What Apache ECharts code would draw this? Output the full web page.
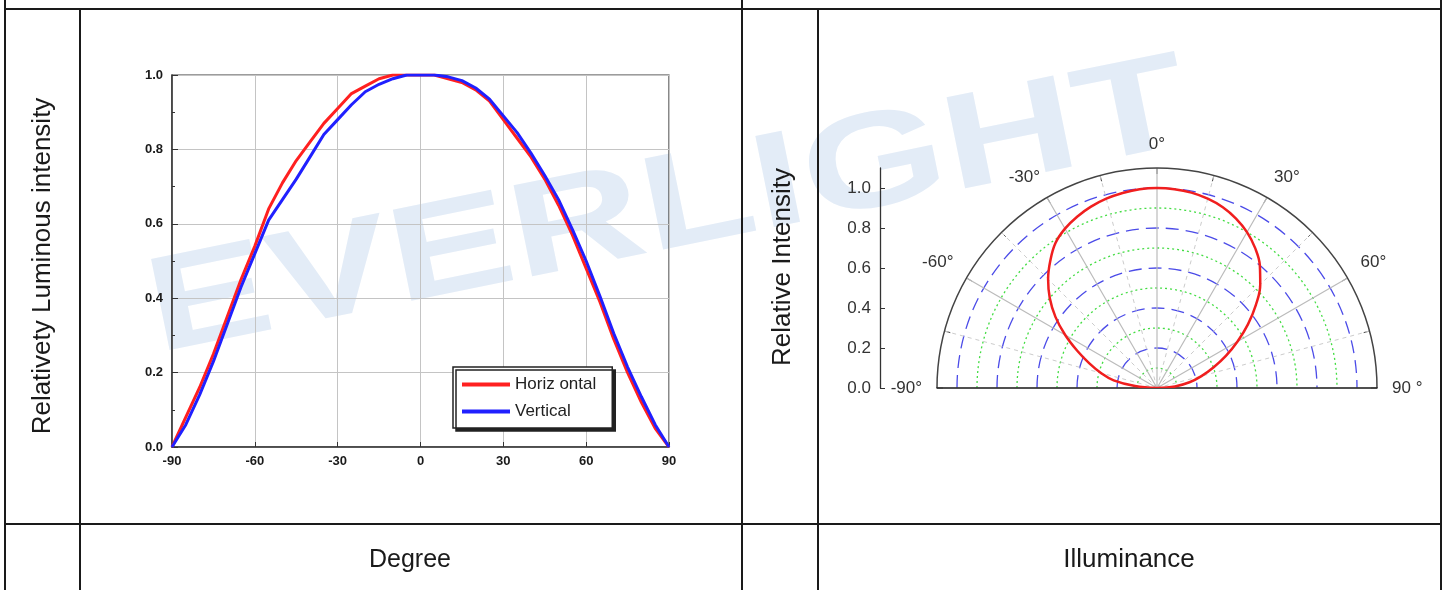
<!DOCTYPE html>
<html><head><meta charset="utf-8">
<script src="https://cdn.jsdelivr.net/npm/echarts@6/dist/echarts.min.js"></script>
<style>html,body{margin:0;padding:0;background:#fff}#c{width:1446px;height:590px}</style>
</head><body><div id="c"></div>
<script>
// ---- Left chart: relative luminous intensity vs angle ----
const degrees = [-90,-85,-80,-75,-70,-65,-60,-55,-50,-45,-40,-35,-30,-25,-20,-15,-10,-5,0,5,10,15,20,25,30,35,40,45,50,55,60,65,70,75,80,85,90];
const horizontal = [0,0.08,0.16,0.25,0.35,0.45,0.54,0.64,0.71,0.77,0.82,0.87,0.91,0.95,0.97,0.99,1.0,1.0,1.0,1.0,0.99,0.98,0.96,0.93,0.88,0.83,0.78,0.72,0.65,0.57,0.48,0.39,0.29,0.20,0.12,0.05,0.0];
const vertical = [0,0.06,0.14,0.23,0.33,0.43,0.52,0.61,0.665,0.72,0.78,0.84,0.88,0.92,0.955,0.975,0.99,1.0,1.0,1.0,0.995,0.985,0.965,0.935,0.89,0.845,0.79,0.73,0.665,0.585,0.50,0.405,0.305,0.215,0.135,0.06,0.0];
const seriesNames = ['Horizontal','Vertical'];
const legendLabels = ['Horiz ontal','Vertical'];

// ---- Right chart: polar illuminance ----
const polarAngles = [-90,-85,-80,-75,-70,-65,-60,-55,-50,-45,-40,-35,-30,-25,-20,-15,-10,-5,0,5,10,15,20,25,30,35,40,45,50,55,60,65,70,75,80,85,90];
const polarIntensity = [0,0.11,0.22,0.29,0.36,0.44,0.53,0.62,0.70,0.77,0.83,0.885,0.92,0.945,0.965,0.98,0.99,0.998,1.0,0.998,0.992,0.98,0.962,0.935,0.90,0.855,0.80,0.73,0.645,0.555,0.465,0.38,0.30,0.23,0.165,0.09,0];
const angleLabelMain = {'-90':'-90°','-60':'-60°','0':'0°','60':'60°','90':'90 °'};
const angleLabelSide = {'-30':'-30°','30':'30°'};

const FONT = '"Liberation Sans", Arial, sans-serif';
const T = 'rgba(0,0,0,0)';
const BLUE = '#4b4be8';
const GREEN = '#44dd44';
const blueRings = [T,T,BLUE,T,BLUE,T,BLUE,T,BLUE,T,BLUE,T];
const greenRings = [T,GREEN,T,GREEN,T,GREEN,T,GREEN,T,GREEN,T,T];
const tbl = {stroke:'#1a1a1a', lineWidth:2};

const chart = echarts.init(document.getElementById('c'));
const option = {
  backgroundColor:'#fff',
  animation:false,
  grid:[
    {left:172, top:75, width:497, height:372, show:true, borderColor:'#3a3a3a', borderWidth:1.2},
    {left:880, top:168, width:40, height:220},
    {left:937, top:300, width:440, height:88}
  ],
  xAxis:[
    {gridIndex:0, type:'value', min:-90, max:90, interval:30,
     axisLine:{show:true, onZero:false, lineStyle:{color:'#333', width:1.5}},
     axisTick:{show:true, inside:true, length:5, lineStyle:{color:'#333'}},
     axisLabel:{margin:8, fontSize:13, fontWeight:'bold', color:'#1a1a1a', fontFamily:FONT},
     splitLine:{show:true, lineStyle:{color:'#c4c4c4', width:1}}},
    {gridIndex:1, type:'value', show:false},
    {gridIndex:2, type:'value', min:0, max:1,
     axisLine:{show:true, onZero:false, lineStyle:{color:'#222', width:1.5}},
     axisTick:{show:false}, axisLabel:{show:false}, splitLine:{show:false}}
  ],
  yAxis:[
    {gridIndex:0, type:'value', min:0, max:1, interval:0.2,
     axisLine:{show:true, onZero:false, lineStyle:{color:'#333', width:1.5}},
     axisTick:{show:true, inside:true, length:6, lineStyle:{color:'#333'}},
     minorTick:{show:true, splitNumber:2, length:3, lineStyle:{color:'#333'}},
     axisLabel:{margin:9, fontSize:13, fontWeight:'bold', color:'#1a1a1a', fontFamily:FONT, formatter:v=>v.toFixed(1)},
     splitLine:{show:true, lineStyle:{color:'#c4c4c4', width:1}}},
    {gridIndex:1, type:'value', min:0, max:1.1, interval:0.2,
     axisLine:{show:true, onZero:false, lineStyle:{color:'#333', width:1.3}},
     axisTick:{show:true, inside:true, length:5, lineStyle:{color:'#333'}},
     axisLabel:{margin:9, fontSize:17, color:'#333', fontFamily:FONT, showMaxLabel:false, formatter:v=>v.toFixed(1)},
     splitLine:{show:false}},
    {gridIndex:2, type:'value', show:false}
  ],
  polar:[
    {center:[1157,388], radius:[0,220]},
    {center:[1157,388], radius:[0,220]}
  ],
  angleAxis:[
    {polarIndex:0, type:'value', min:-90, max:90, interval:15, startAngle:180, endAngle:0, clockwise:true,
     axisLine:{show:true, lineStyle:{color:'#444', width:1.5}},
     axisTick:{show:true, inside:true, length:6, lineStyle:{color:'#444'}},
     axisLabel:{margin:15, fontSize:17, color:'#333', fontFamily:FONT, formatter:v=>angleLabelMain[String(v)]||''},
     splitLine:{show:true, lineStyle:{color:['#bbbbbb',T], width:1.2}}},
    {polarIndex:1, type:'value', min:-90, max:90, interval:15, startAngle:180, endAngle:0, clockwise:true,
     axisLine:{show:false}, axisTick:{show:false},
     axisLabel:{margin:14, fontSize:17, color:'#333', fontFamily:FONT, align:'center', formatter:v=>angleLabelSide[String(v)]||''},
     splitLine:{show:true, lineStyle:{color:[T,'#cccccc'], width:1, type:[4,4]}}}
  ],
  radiusAxis:[
    {polarIndex:0, type:'value', min:0, max:1.1, interval:0.1,
     axisLine:{show:false}, axisTick:{show:false}, axisLabel:{show:false},
     splitLine:{show:true, lineStyle:{color:blueRings, width:1.3, type:[13,7]}}},
    {polarIndex:1, type:'value', min:0, max:1.1, interval:0.1,
     axisLine:{show:false}, axisTick:{show:false}, axisLabel:{show:false},
     splitLine:{show:true, lineStyle:{color:greenRings, width:1.3, type:[2,3]}}}
  ],
  legend:{
    data:seriesNames, left:453, top:367, orient:'vertical', icon:'rect',
    itemWidth:48, itemHeight:4, itemGap:10, padding:[9,16,8,9],
    backgroundColor:'#fff', borderColor:'#222', borderWidth:1.5,
    shadowColor:'#222', shadowOffsetX:3, shadowOffsetY:3, shadowBlur:0,
    selectedMode:false,
    textStyle:{fontSize:17, color:'#222', fontFamily:FONT},
    formatter:n=>legendLabels[seriesNames.indexOf(n)]
  },
  series:[
    {type:'line', name:seriesNames[0], xAxisIndex:0, yAxisIndex:0, symbol:'none',
     data:degrees.map((d,i)=>[d,horizontal[i]]),
     lineStyle:{color:'#ff2020', width:3}, itemStyle:{color:'#ff2020'}},
    {type:'line', name:seriesNames[1], xAxisIndex:0, yAxisIndex:0, symbol:'none',
     data:degrees.map((d,i)=>[d,vertical[i]]),
     lineStyle:{color:'#2020ff', width:3}, itemStyle:{color:'#2020ff'}},
    {type:'line', coordinateSystem:'polar', polarIndex:0, symbol:'none', smooth:0.4,
     data:polarAngles.map((a,i)=>[polarIntensity[i],a]),
     lineStyle:{color:'#f01e1e', width:2.5}, itemStyle:{color:'#f01e1e'}}
  ],
  graphic:[
    {type:'text', z:-1, x:150, y:316, rotation:11.5*Math.PI/180, scaleX:1.37,
     style:{text:'EVERLIGHT', font:'bold 135px "Liberation Sans", Arial, sans-serif', fill:'#e3ecf7',
            textAlign:'left', textVerticalAlign:'middle', align:'left', verticalAlign:'middle'}},
    {type:'line', shape:{x1:5,y1:0,x2:5,y2:590}, style:tbl},
    {type:'line', shape:{x1:80,y1:9,x2:80,y2:590}, style:tbl},
    {type:'line', shape:{x1:742,y1:0,x2:742,y2:590}, style:tbl},
    {type:'line', shape:{x1:818,y1:9,x2:818,y2:590}, style:tbl},
    {type:'line', shape:{x1:1441,y1:0,x2:1441,y2:590}, style:tbl},
    {type:'line', shape:{x1:5,y1:9,x2:1441,y2:9}, style:tbl},
    {type:'line', shape:{x1:5,y1:524,x2:1441,y2:524}, style:tbl},
    {type:'text', x:43, y:266, rotation:Math.PI/2,
     style:{text:'Relativety Luminous intensity', font:'26px "Liberation Sans", Arial, sans-serif', fill:'#1a1a1a',
            textAlign:'center', textVerticalAlign:'middle', align:'center', verticalAlign:'middle'}},
    {type:'text', x:783, y:267, rotation:Math.PI/2,
     style:{text:'Relative Intensity', font:'26px "Liberation Sans", Arial, sans-serif', fill:'#1a1a1a',
            textAlign:'center', textVerticalAlign:'middle', align:'center', verticalAlign:'middle'}},
    {type:'text', x:410, y:560,
     style:{text:'Degree', font:'25px "Liberation Sans", Arial, sans-serif', fill:'#1a1a1a',
            textAlign:'center', textVerticalAlign:'middle', align:'center', verticalAlign:'middle'}},
    {type:'text', x:1129, y:560,
     style:{text:'Illuminance', font:'26px "Liberation Sans", Arial, sans-serif', fill:'#1a1a1a',
            textAlign:'center', textVerticalAlign:'middle', align:'center', verticalAlign:'middle'}}
  ]
};
chart.setOption(option);
</script>
</body></html>
